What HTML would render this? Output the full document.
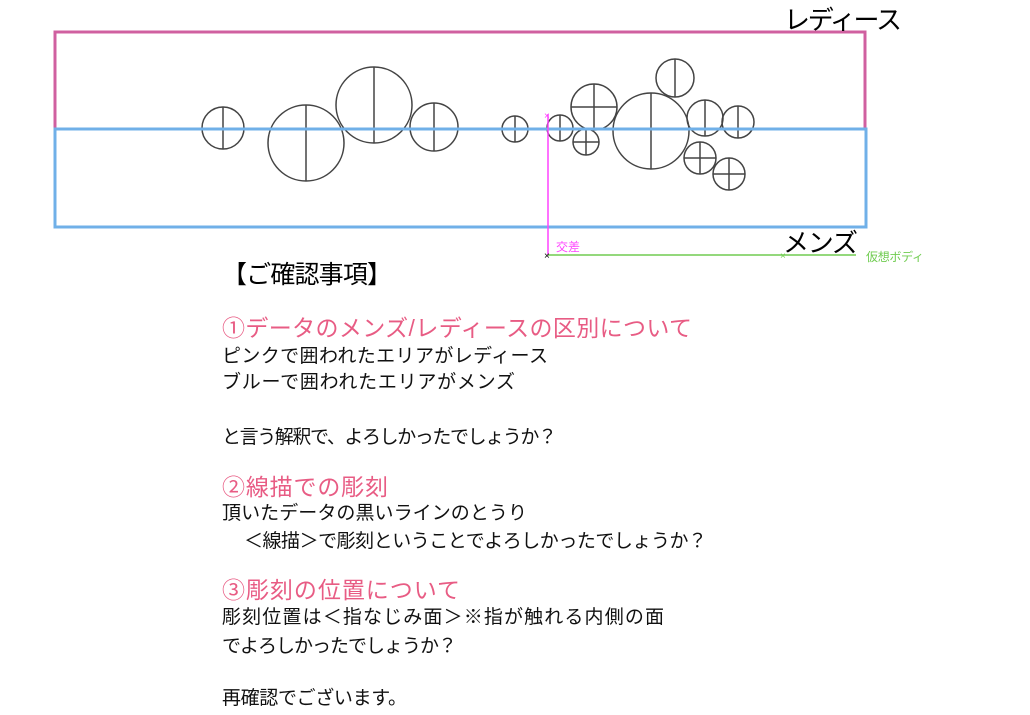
<!DOCTYPE html>
<html><head><meta charset="utf-8"><style>
body{margin:0;background:#fff;width:1030px;height:710px;overflow:hidden}
svg text{font-family:"Liberation Sans","Noto Sans CJK JP",sans-serif}
</style></head><body>
<svg width="1030" height="710" viewBox="0 0 1030 710">
<rect x="55" y="32" width="810" height="97" fill="none" stroke="#d060a0" stroke-width="3"/>
<line x1="150" y1="129" x2="820" y2="129" stroke="#888" stroke-width="1"/>
<g fill="none" stroke="#444" stroke-width="1.5">
<circle cx="223" cy="128" r="21"/><line x1="223" y1="107" x2="223" y2="149"/>
<circle cx="306" cy="143" r="38"/><line x1="306" y1="105" x2="306" y2="181"/>
<circle cx="374" cy="105" r="38"/><line x1="374" y1="67" x2="374" y2="143"/>
<circle cx="434" cy="127" r="24"/><line x1="434" y1="103" x2="434" y2="151"/>
<circle cx="515" cy="129" r="13"/><line x1="515" y1="116" x2="515" y2="142"/>
<circle cx="560" cy="128" r="13"/><line x1="560" y1="115" x2="560" y2="141"/>
<circle cx="594" cy="107" r="23"/><line x1="594" y1="84" x2="594" y2="130"/><line x1="571" y1="107" x2="617" y2="107"/>
<circle cx="586" cy="142" r="13"/><line x1="586" y1="129" x2="586" y2="155"/><line x1="573" y1="142" x2="599" y2="142"/>
<circle cx="651" cy="131" r="38"/><line x1="651" y1="93" x2="651" y2="169"/>
<circle cx="675" cy="78" r="19"/><line x1="675" y1="59" x2="675" y2="97"/>
<circle cx="705" cy="118" r="18"/><line x1="705" y1="100" x2="705" y2="136"/>
<circle cx="738" cy="122" r="16"/><line x1="738" y1="106" x2="738" y2="138"/>
<circle cx="700" cy="158" r="16"/><line x1="700" y1="142" x2="700" y2="174"/><line x1="684" y1="158" x2="716" y2="158"/>
<circle cx="729" cy="174" r="16"/><line x1="729" y1="158" x2="729" y2="190"/><line x1="713" y1="174" x2="745" y2="174"/>
</g>
<rect x="55" y="129" width="811" height="98" fill="none" stroke="#70b0e8" stroke-width="3"/>
<line x1="548" y1="114" x2="548" y2="255" stroke="#ff44ff" stroke-width="1.5"/>
<text x="544" y="119" font-size="10" fill="#ff44ff">×</text>
<line x1="548" y1="255" x2="856" y2="255" stroke="#70cc50" stroke-width="1.5"/>
<text x="544" y="259" font-size="10" fill="#000">×</text>
<text x="780" y="259" font-size="10" fill="#70cc50">×</text>
<text x="556" y="251" font-size="12" fill="#ff44ff">交差</text>
<text x="866" y="261" font-size="12" fill="#70cc50" textLength="58">仮想ボディ</text>
<text x="784" y="29" font-size="26" fill="#000" textLength="118">レディース</text>
<text x="783" y="252" font-size="26" fill="#000" textLength="75">メンズ</text>
<text x="222" y="283" font-size="25" fill="#000" textLength="170">【ご確認事項】</text>
<g font-size="23" fill="#e85c84">
<text x="222" y="336" textLength="470">①データのメンズ/レディースの区別について</text>
<text x="222" y="495" textLength="166">②線描での彫刻</text>
<text x="222" y="598" textLength="238">③彫刻の位置について</text>
</g>
<g font-size="19" fill="#111">
<text x="222" y="362" textLength="326">ピンクで囲われたエリアがレディース</text>
<text x="222" y="388" textLength="293">ブルーで囲われたエリアがメンズ</text>
<text x="222" y="443" textLength="335">と言う解釈で、よろしかったでしょうか？</text>
<text x="222" y="519" textLength="305">頂いたデータの黒いラインのとうり</text>
<text x="244" y="547" textLength="463">＜線描＞で彫刻ということでよろしかったでしょうか？</text>
<text x="222" y="623" textLength="442">彫刻位置は＜指なじみ面＞※指が触れる内側の面</text>
<text x="222" y="652" textLength="235">でよろしかったでしょうか？</text>
<text x="222" y="704" textLength="185">再確認でございます。</text>
</g>
</svg>
</body></html>
